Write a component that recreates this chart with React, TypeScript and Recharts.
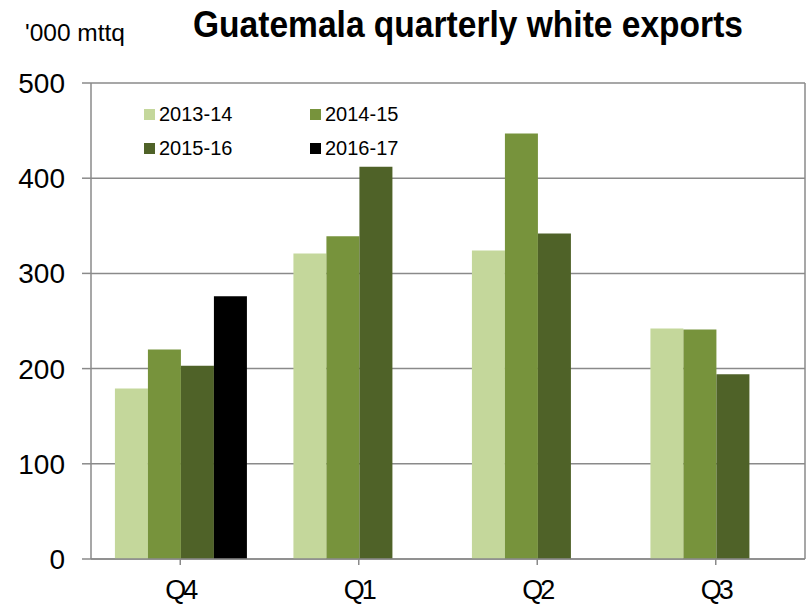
import React from 'react';
import { BarChart, Bar, XAxis, YAxis, CartesianGrid } from 'recharts';

const quarters = ['Q4', 'Q1', 'Q2', 'Q3'];
const s2013 = [179, 321, 324, 242];
const s2014 = [220, 339, 447, 241];
const s2015 = [203, 412, 342, 194];
const s2016: (number | null)[] = [276, null, null, null];
const yTicks = [0, 100, 200, 300, 400, 500];

const seriesNames = ['2013-14', '2014-15', '2015-16', '2016-17'];
const seriesKeys = ['a', 'b', 'c', 'd'];
const seriesColors = ['#C4D79B', '#77933C', '#4F6228', '#000000'];

const data = quarters.map((q, i) => ({
  q,
  a: s2013[i],
  b: s2014[i],
  c: s2015[i],
  d: s2016[i],
}));

const FONT = "'Liberation Sans', Arial, Helvetica, sans-serif";
const GRID = '#8a8a8a';

const XTick = (props: any) => {
  const { x, y, payload } = props;
  return (
    <text x={x} y={y} dy="0.71em" textAnchor="middle" fontSize={27} fontFamily={FONT} fill="#000" letterSpacing={-3}>
      {payload.value}
    </text>
  );
};

export default function App() {
  return (
    <div style={{ position: 'absolute', left: 0, top: 0, width: 809, height: 606, background: '#fff' }}>
      <BarChart
        width={809}
        height={606}
        data={data}
        margin={{ top: 83, right: 3, bottom: 0, left: 0 }}
        barCategoryGap="13.4%"
        barGap={0}
      >
        <CartesianGrid vertical={false} stroke={GRID} strokeWidth={1.5} />
        <XAxis
          dataKey="q"
          height={47}
          tickSize={6}
          tickMargin={15}
          axisLine={{ stroke: GRID, strokeWidth: 1.5 }}
          tickLine={{ stroke: GRID, strokeWidth: 1.5 }}
          tick={<XTick />}
          interval={0}
        />
        <YAxis
          domain={[0, 500]}
          ticks={yTicks}
          width={91}
          tickSize={9}
          tickMargin={17}
          axisLine={{ stroke: GRID, strokeWidth: 1.5 }}
          tickLine={{ stroke: GRID, strokeWidth: 1.5 }}
          tick={{ fontSize: 28, fill: '#000', fontFamily: FONT }}
          allowDataOverflow
        />
        <YAxis
          yAxisId="r"
          orientation="right"
          domain={[0, 500]}
          width={1}
          tick={false}
          tickLine={false}
          axisLine={{ stroke: GRID, strokeWidth: 1.5 }}
        />
        {seriesKeys.map((k, i) => (
          <Bar key={k} dataKey={k} name={seriesNames[i]} fill={seriesColors[i]} isAnimationActive={false} />
        ))}
      </BarChart>
      <div
        style={{
          position: 'absolute',
          top: 97,
          left: 144,
          display: 'grid',
          gridTemplateColumns: '166px 166px',
          gridAutoRows: '34px',
          fontFamily: FONT,
          fontSize: 20,
          color: '#000',
        }}
      >
        {seriesNames.map((n, i) => (
          <div key={n} style={{ display: 'flex', alignItems: 'center', height: 34 }}>
            <span style={{ display: 'inline-block', width: 11, height: 11, background: seriesColors[i], marginRight: 4 }} />
            <span>{n}</span>
          </div>
        ))}
      </div>
      <svg width={809} height={60} style={{ position: 'absolute', left: 0, top: 0, pointerEvents: 'none' }}>
        <text x={25} y={41} fontSize={23} fontFamily={FONT} fill="#000" textLength={100} lengthAdjust="spacingAndGlyphs">
          '000 mttq
        </text>
        <text x={193} y={37} fontSize={37} fontWeight="bold" fontFamily={FONT} fill="#000" textLength={550} lengthAdjust="spacingAndGlyphs">
          Guatemala quarterly white exports
        </text>
      </svg>
    </div>
  );
}
